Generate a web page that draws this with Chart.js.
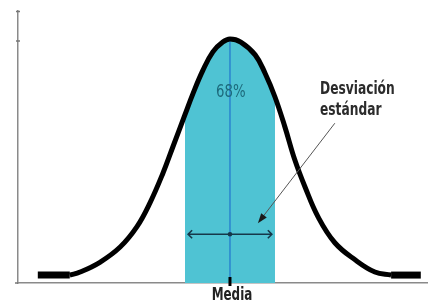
<!DOCTYPE html>
<html>
<head>
<meta charset="utf-8">
<script src="https://cdn.jsdelivr.net/npm/chart.js@4.4.0/dist/chart.umd.min.js"></script>
<style>
  html, body { margin: 0; padding: 0; background: #fff; }
  #wrap { width: 428px; height: 305px; }
</style>
</head>
<body>
<div id="wrap"><canvas id="bell-chart"></canvas></div>
<script>
// Bell curve (x = standard deviations from the mean)
const curveX = [-3.56, -3.33, -2.89, -2.44, -2.07, -1.78, -1.49, -1.27, -1.0, -0.82, -0.60, -0.38, -0.16, 0, 0.24, 0.56, 0.78, 1.0, 1.22, 1.44, 1.67, 1.96, 2.33, 2.78, 3.22, 3.58];
const curveY = [0.013, 0.018, 0.034, 0.059, 0.092, 0.131, 0.180, 0.223, 0.276, 0.311, 0.349, 0.379, 0.395, 0.400, 0.395, 0.374, 0.344, 0.305, 0.256, 0.202, 0.157, 0.108, 0.066, 0.038, 0.018, 0.013];

// flat tails at both ends
const leftTailX = [-4.27, -3.56];
const rightTailX = [3.58, 4.24];
const tailY = [0.013, 0.013];

// shaded band, mean +/- 1 sd
const shadeX = [-1.0, -0.82, -0.60, -0.38, -0.16, 0, 0.24, 0.56, 0.78, 1.0];
const shadeY = [0.276, 0.311, 0.349, 0.379, 0.395, 0.400, 0.395, 0.374, 0.344, 0.305];

// mean line and the sd arrow
const meanX = [0, 0];
const meanY = [0, 0.400];
const sdArrowX = [-0.93, 0.93];
const sdArrowY = 0.080;

// labels
const meanLabel = 'Media';
const bandLabel = '68%';
const sdLabel = ['Desviación', 'estándar'];

const toPoints = (xs, ys) => xs.map((v, i) => ({ x: v, y: ys[i] }));

// where the notes sit, in axis units
const notes = {
  band: { x: 0.02, y: 0.305 },
  sdText: { x: 2.0, y: 0.310, lineGap: 0.034 },
  pointerFrom: { x: 2.33, y: 0.262 },
  pointerTo: { x: 0.62, y: 0.098 }
};

const condensed = "'DejaVu Sans Condensed', 'DejaVu Sans', sans-serif";

// text squeezed sideways, the picture uses a narrow face
function narrowText(ctx, text, px, py, squeeze, align) {
  ctx.save();
  ctx.translate(px, py);
  ctx.scale(squeeze, 1);
  ctx.textAlign = align;
  ctx.fillText(text, 0, 0);
  ctx.restore();
}

const bellNotes = {
  id: 'bellNotes',
  afterDatasetsDraw(chart) {
    const { ctx, scales: { x, y } } = chart;
    ctx.save();

    // y axis small marks
    ctx.strokeStyle = '#777';
    ctx.lineWidth = 1.5;
    ctx.beginPath();
    ctx.moveTo(x.left - 2, y.top + 0.5); ctx.lineTo(x.left + 2, y.top + 0.5);
    ctx.moveTo(x.left - 2, y.getPixelForValue(0.397)); ctx.lineTo(x.left + 2, y.getPixelForValue(0.397));
    ctx.moveTo(x.left - 3, y.bottom); ctx.lineTo(x.left, y.bottom);
    ctx.stroke();

    // sd arrow
    const ay = y.getPixelForValue(sdArrowY);
    const a0 = x.getPixelForValue(sdArrowX[0]);
    const a1 = x.getPixelForValue(sdArrowX[1]);
    ctx.strokeStyle = '#16384a';
    ctx.lineWidth = 1.6;
    ctx.beginPath();
    ctx.moveTo(a0, ay); ctx.lineTo(a1, ay);
    ctx.moveTo(a0 + 4, ay - 4); ctx.lineTo(a0, ay); ctx.lineTo(a0 + 4, ay + 4);
    ctx.moveTo(a1 - 4, ay - 4); ctx.lineTo(a1, ay); ctx.lineTo(a1 - 4, ay + 4);
    ctx.stroke();
    ctx.fillStyle = '#16384a';
    ctx.beginPath();
    ctx.arc(x.getPixelForValue(0), ay, 2.3, 0, Math.PI * 2);
    ctx.fill();

    // tick under the mean
    const mx = x.getPixelForValue(0);
    ctx.strokeStyle = '#000';
    ctx.lineWidth = 3;
    ctx.beginPath();
    ctx.moveTo(mx, y.bottom - 6); ctx.lineTo(mx, y.bottom + 3);
    ctx.stroke();

    // pointer to the arrow
    const px0 = x.getPixelForValue(notes.pointerFrom.x), py0 = y.getPixelForValue(notes.pointerFrom.y);
    const px1 = x.getPixelForValue(notes.pointerTo.x), py1 = y.getPixelForValue(notes.pointerTo.y);
    const ang = Math.atan2(py1 - py0, px1 - px0);
    ctx.strokeStyle = '#555';
    ctx.lineWidth = 1;
    ctx.beginPath();
    ctx.moveTo(px0, py0);
    ctx.lineTo(px1 - 6 * Math.cos(ang), py1 - 6 * Math.sin(ang));
    ctx.stroke();
    ctx.fillStyle = '#1a1a1a';
    ctx.beginPath();
    ctx.moveTo(px1, py1);
    ctx.lineTo(px1 - 10 * Math.cos(ang) + 3.5 * Math.sin(ang), py1 - 10 * Math.sin(ang) - 3.5 * Math.cos(ang));
    ctx.lineTo(px1 - 10 * Math.cos(ang) - 3.5 * Math.sin(ang), py1 - 10 * Math.sin(ang) + 3.5 * Math.cos(ang));
    ctx.closePath();
    ctx.fill();

    // texts
    ctx.textBaseline = 'alphabetic';
    ctx.fillStyle = '#1d6a7c';
    ctx.font = '18px ' + condensed;
    narrowText(ctx, bandLabel, x.getPixelForValue(notes.band.x), y.getPixelForValue(notes.band.y), 0.82, 'center');

    ctx.fillStyle = '#222';
    ctx.font = 'bold 17px ' + condensed;
    narrowText(ctx, meanLabel, mx + 2, y.bottom + 17, 0.78, 'center');

    ctx.fillStyle = '#2b2b2b';
    sdLabel.forEach((t, i) => {
      narrowText(ctx, t, x.getPixelForValue(notes.sdText.x),
        y.getPixelForValue(notes.sdText.y - i * notes.sdText.lineGap), 0.8, 'left');
    });

    ctx.restore();
  }
};

const ctxBell = document.getElementById('bell-chart').getContext('2d');
const bellChart = new Chart(ctxBell, {
  type: 'line',
  data: {
    datasets: [
      {
        data: toPoints(curveX, curveY),
        borderColor: '#000',
        borderWidth: 5,
        tension: 0.4,
        borderJoinStyle: 'round',
        pointRadius: 0,
        fill: false
      },
      {
        data: toPoints(leftTailX, tailY),
        borderColor: '#000',
        borderWidth: 7,
        pointRadius: 0,
        fill: false
      },
      {
        data: toPoints(rightTailX, tailY),
        borderColor: '#000',
        borderWidth: 7,
        pointRadius: 0,
        fill: false
      },
      {
        data: toPoints(meanX, meanY),
        borderColor: '#2a84cf',
        borderWidth: 1.5,
        pointRadius: 0,
        fill: false
      },
      {
        data: toPoints(shadeX, shadeY),
        borderWidth: 0,
        borderColor: 'rgba(0,0,0,0)',
        backgroundColor: '#4fc3d3',
        tension: 0.4,
        pointRadius: 0,
        fill: 'origin'
      }
    ]
  },
  options: {
    responsive: true,
    maintainAspectRatio: false,
    animation: false,
    layout: { padding: { left: 18, right: 0, top: 11, bottom: 22 } },
    plugins: { legend: { display: false }, tooltip: { enabled: false } },
    scales: {
      x: {
        type: 'linear',
        min: -4.71,
        max: 4.4,
        grid: { display: false, drawTicks: false },
        border: { display: true, color: '#8a8a8a', width: 1.5 },
        ticks: { display: false }
      },
      y: {
        min: 0,
        max: 0.446,
        grid: { display: false, drawTicks: false },
        border: { display: true, color: '#8a8a8a', width: 1.5 },
        ticks: { display: false }
      }
    }
  },
  plugins: [bellNotes]
});
</script>
</body>
</html>
